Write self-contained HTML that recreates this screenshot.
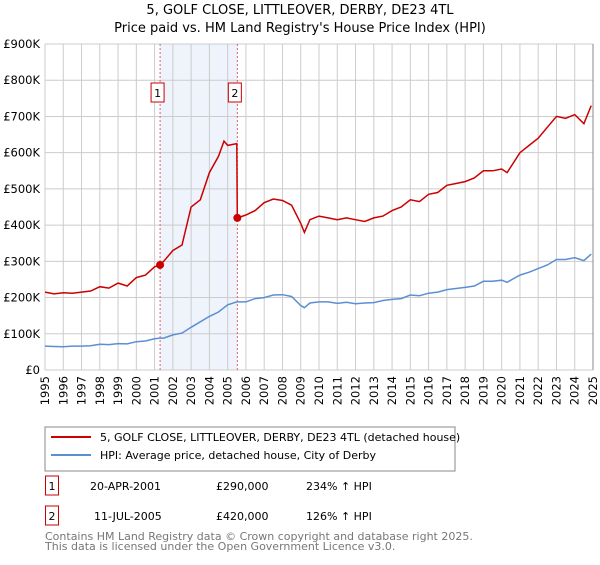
<!DOCTYPE html>
<html><head><meta charset="utf-8"><style>
body{margin:0;background:#fff;font-family:"Liberation Sans","DejaVu Sans",sans-serif;}
</style></head><body>
<svg width="600" height="560" xmlns="http://www.w3.org/2000/svg" font-family="DejaVu Sans, Liberation Sans, sans-serif">
<text x="300" y="14" text-anchor="middle" font-size="13">5, GOLF CLOSE, LITTLEOVER, DERBY, DE23 4TL</text>
<text x="300" y="32" text-anchor="middle" font-size="13">Price paid vs. HM Land Registry's House Price Index (HPI)</text>
<g id="plot"></g>
<rect x="45" y="427" width="410" height="44" fill="#fff" stroke="#888"/>
<line x1="51" y1="437" x2="91" y2="437" stroke="#cc0000" stroke-width="2"/>
<text x="100" y="441" font-size="11">5, GOLF CLOSE, LITTLEOVER, DERBY, DE23 4TL (detached house)</text>
<line x1="51" y1="455" x2="91" y2="455" stroke="#5b8fd4" stroke-width="2"/>
<text x="100" y="459" font-size="11">HPI: Average price, detached house, City of Derby</text>
<g font-size="11">
<rect x="45.5" y="476" width="13" height="19" fill="#fff" stroke="#cc0000"/>
<text x="52" y="490" text-anchor="middle">1</text>
<text x="90" y="490">20-APR-2001</text>
<text x="216" y="490">£290,000</text>
<text x="306" y="490">234% ↑ HPI</text>
<rect x="45.5" y="506" width="13" height="19" fill="#fff" stroke="#cc0000"/>
<text x="52" y="520" text-anchor="middle">2</text>
<text x="94" y="520">11-JUL-2005</text>
<text x="216" y="520">£420,000</text>
<text x="306" y="520">126% ↑ HPI</text>
</g>
<text x="45" y="540" font-size="11" fill="#777">Contains HM Land Registry data © Crown copyright and database right 2025.</text>
<text x="45" y="550" font-size="11" fill="#777">This data is licensed under the Open Government Licence v3.0.</text>
</svg>
<script>
const years=[1995,1995.5,1996,1996.5,1997,1997.5,1998,1998.5,1999,1999.5,2000,2000.5,2001,2001.3,2001.5,2002,2002.5,2003,2003.5,2004,2004.5,2004.8,2005,2005.5,2005.53,2006,2006.5,2007,2007.5,2008,2008.5,2009,2009.2,2009.5,2010,2010.5,2011,2011.5,2012,2012.5,2013,2013.5,2014,2014.5,2015,2015.5,2016,2016.5,2017,2017.5,2018,2018.5,2019,2019.5,2020,2020.3,2021,2021.5,2022,2022.5,2023,2023.5,2024,2024.5,2024.9];
const priceSeries=[215,210,213,212,215,218,230,226,240,232,255,262,285,290,300,330,345,450,470,545,590,632,620,625,420,428,440,462,472,468,455,405,380,415,425,420,415,420,415,410,420,425,440,450,470,465,485,490,510,515,520,530,550,550,555,545,600,620,640,670,700,695,705,680,730];
const hpiSeries=[66,65,64,66,66,67,71,70,73,72,78,80,86,88,88,97,102,118,133,148,160,172,180,188,188,188,197,200,207,208,203,178,172,185,188,188,184,187,183,185,186,192,195,197,207,205,212,215,222,225,228,232,245,245,248,242,262,270,280,290,305,305,310,302,320];
const yTicks=[0,100,200,300,400,500,600,700,800,900];
const yTickLabels=["£0","£100K","£200K","£300K","£400K","£500K","£600K","£700K","£800K","£900K"];
const xTicks=[1995,1996,1997,1998,1999,2000,2001,2002,2003,2004,2005,2006,2007,2008,2009,2010,2011,2012,2013,2014,2015,2016,2017,2018,2019,2020,2021,2022,2023,2024,2025];
const saleDates=[2001.3,2005.53];
const salePrices=[290,420];
const saleLabels=["1","2"];
const X0=45,X1=593,Y0=370,Y1=44;
const xs=t=>X0+(t-1995)/30*(X1-X0);
const ys=v=>Y0-v/900*(Y0-Y1);
const NS="http://www.w3.org/2000/svg";
const g=document.getElementById('plot');
function mk(tag,attrs){const e=document.createElementNS(NS,tag);for(const k in attrs)e.setAttribute(k,attrs[k]);g.appendChild(e);return e;}
let sh=mk('rect',{x:xs(saleDates[0]),y:Y1,width:xs(saleDates[1])-xs(saleDates[0]),height:Y0-Y1,fill:'#eef3fc'});


yTicks.forEach((v,i)=>{
 let l=mk('line',{x1:X0,x2:X1,y1:ys(v),y2:ys(v),stroke:'#ccc'});
 
 
 let t=mk('text',{x:40,y:ys(v)+4,'text-anchor':'end','font-size':'11.5'});t.textContent=yTickLabels[i];
 
 
});
xTicks.forEach(y=>{
 let l=mk('line',{x1:xs(y),x2:xs(y),y1:Y1,y2:Y0,stroke:y===2025?'#888':'#ccc'});
 
 
 let t=mk('text',{x:0,y:0,'font-size':'11.5','text-anchor':'end',transform:`translate(${xs(y)+4},376) rotate(-90)`});t.textContent=y;
 
 
});
saleDates.forEach((d,i)=>{
 let l=mk('line',{x1:xs(d),x2:xs(d),y1:Y1,y2:Y0,stroke:'#e06060','stroke-dasharray':'2,2'});
 
 
 let r=mk('rect',{x:xs(d)-9,y:83,width:13,height:19,fill:'#fff',stroke:'#cc0000'});
 
 
 let t=mk('text',{x:xs(d)-2.5,y:97,'text-anchor':'middle','font-size':'11'});t.textContent=saleLabels[i];
 
 
});
const path=arr=>arr.map((v,i)=>(i?'L':'M')+xs(years[i]).toFixed(1)+','+ys(v).toFixed(1)).join('');
let hp=mk('path',{d:path(hpiSeries),fill:'none',stroke:'#5b8fd4','stroke-width':1.5});


let pp=mk('path',{d:path(priceSeries),fill:'none',stroke:'#cc0000','stroke-width':1.5});


saleDates.forEach((d,i)=>{
 let c=mk('circle',{cx:xs(d),cy:ys(salePrices[i]),r:4,fill:'#cc0000'});
 
 
});
</script>
</body></html>
